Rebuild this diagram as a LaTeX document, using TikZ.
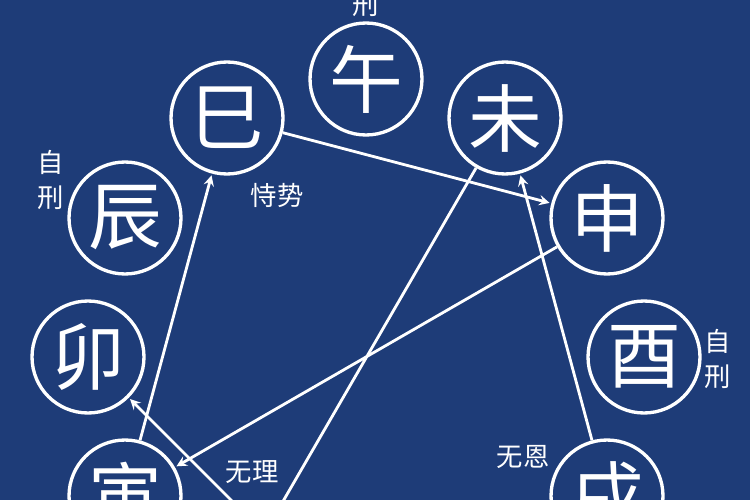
\documentclass[tikz,border=0pt]{standalone}
\usepackage{fontspec}
\newfontfamily\cjk{Noto Sans CJK SC}
\usepackage{xcolor}
\definecolor{navy}{RGB}{30,60,120}
\tikzset{zhi/.style={circle,draw=white,line width=1.9pt,minimum size=2.24cm,inner sep=0pt,
    text=white,font=\cjk\fontsize{42}{42}\selectfont},
  note/.style={text=white,align=center,inner sep=0pt,font=\cjk\fontsize{15}{20}\selectfont},
  xing/.style={->,>=stealth,draw=white,line width=1.6pt,shorten >=1pt}}

\begin{document}
\begin{tikzpicture}[x=0.02cm,y=-0.02cm]
    \useasboundingbox (0,0) rectangle (750,500);
    \fill[navy] (0,0) rectangle (750,500);
    \clip (0,0) rectangle (750,500);
    \node[zhi] (wu) at (366,79) {午};
    \node[zhi] (si) at (227,118) {巳};
    \node[zhi] (wei) at (505,118) {未};
    \node[zhi] (chen) at (125,218) {辰};
    \node[zhi] (shen) at (607,218) {申};
    \node[zhi] (mao) at (88,357) {卯};
    \node[zhi] (you) at (644,357) {酉};
    \node[zhi] (yin) at (125,496) {寅};
    \node[zhi] (xu) at (607,496) {戌};
    \coordinate (zi) at (366,635);
    \coordinate (chou) at (227,598);
    \node[note] (wuxing) at (366,5) {刑};
    \node[note] (chenzi) at (51,180) {自\\刑};
    \node[note] (youzi) at (718,359) {自\\刑};
    \node[note] (shishi) at (277,195) {恃势};
    \node[note] (wuli) at (252,472) {无理};
    \node[note] (wuen) at (523,457) {无恩};
    \draw[xing] (si) -- (shen);
    \draw[xing] (yin) -- (si);
    \draw[xing] (shen) -- (yin);
    \draw[xing] (xu) -- (wei);
    \draw[xing] (wei) -- (chou);
    \draw[xing] (zi) -- (mao);
\end{tikzpicture}
\end{document}
